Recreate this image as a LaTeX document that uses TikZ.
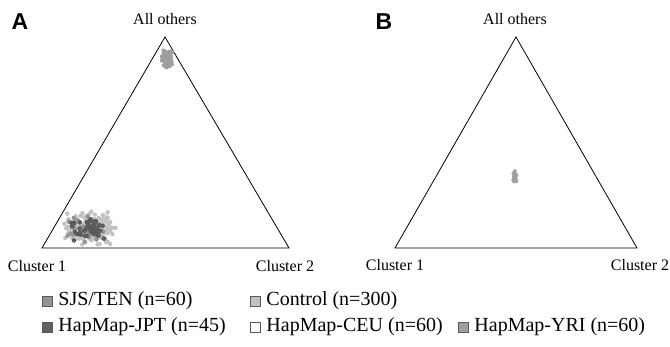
\documentclass[tikz,border=0pt]{standalone}
\usepackage{fontspec}
\setmainfont{Liberation Serif}
\newfontfamily\panelfont{Liberation Sans}
\usetikzlibrary{positioning}

\definecolor{sjsgray}{gray}{0.58}
\definecolor{ctrlgray}{gray}{0.76}
\definecolor{jptgray}{gray}{0.38}
\definecolor{yrigray}{gray}{0.62}

\tikzset{
  tri/.style={line width=0.8pt,line join=miter},
  axlabel/.style={font=\rmfamily\fontsize{16}{18}\selectfont,inner sep=0pt},
  panellabel/.style={font=\panelfont\bfseries\fontsize{23}{25}\selectfont,inner sep=0pt},
  legbox/.style={minimum size=10pt,inner sep=0pt,draw=gray!70!black,line width=0.5pt},
  legtext/.style={font=\rmfamily\fontsize{20}{22}\selectfont,inner sep=0pt,anchor=west},
  ctrlpt/.style={fill=ctrlgray},
  sjspt/.style={fill=sjsgray},
  jptpt/.style={fill=jptgray,draw=black!70,line width=0.3pt},
  yript/.style={fill=yrigray}
}

\begin{document}
\begin{tikzpicture}[x=1pt,y=-1pt]
\useasboundingbox (0,0) rectangle (670,346);
\pgfmathsetseed{11}

% panel A
\coordinate (aT) at (165,37);
\coordinate (aL) at (42,248);
\coordinate (aR) at (289,248);
\draw[tri] (aT) -- (aL) -- (aR) -- cycle;
\node[panellabel] (labA) at (20,22) {A};
\node[axlabel] (aTop) at (165,19) {All others};
\node[axlabel] (aC1) at (37,266) {Cluster 1};
\node[axlabel] (aC2) at (285,266) {Cluster 2};

% clouds near Cluster 1
\foreach \i in {1,...,190}{
  \pgfmathsetmacro\py{228+10*rand+8*rand}
  \pgfmathsetmacro\px{90+16*rand+14*rand+0.4*(\py-228)*0}
  \fill[ctrlpt] (\px,\py) circle (2.2pt);
}
\foreach \i in {1,...,55}{
  \pgfmathsetmacro\px{86+13*rand+10*rand}
  \pgfmathsetmacro\py{229+8*rand+6*rand}
  \fill[sjspt] (\px,\py) circle (2.2pt);
}
\foreach \i in {1,...,45}{
  \pgfmathsetmacro\px{88+12*rand+9*rand}
  \pgfmathsetmacro\py{229+8*rand+6*rand}
  \filldraw[jptpt] (\px,\py) circle (2pt);
}
% cloud near All others
\foreach \i in {1,...,70}{
  \pgfmathsetmacro\px{167+3.5*rand+2.5*rand}
  \pgfmathsetmacro\py{59+5*rand+4*rand}
  \fill[yript] (\px,\py) circle (2.2pt);
}

% panel B
\coordinate (bT) at (516,37);
\coordinate (bL) at (395,248);
\coordinate (bR) at (637,248);
\draw[tri] (bT) -- (bL) -- (bR) -- cycle;
\node[panellabel] (labB) at (384,22) {B};
\node[axlabel] (bTop) at (515,19) {All others};
\node[axlabel] (bC1) at (395,265) {Cluster 1};
\node[axlabel] (bC2) at (640,265) {Cluster 2};
\foreach \i in {1,...,40}{
  \pgfmathsetmacro\px{515+1.3*rand+1*rand}
  \pgfmathsetmacro\py{176+3.5*rand+3*rand}
  \fill[yript] (\px,\py) circle (1.9pt);
}

% legend
\node[legbox,fill=sjsgray] (kSJS) at (47,301) {};
\node[legtext,right=6pt of kSJS] (tSJS) {SJS/TEN (n=60)};
\node[legbox,fill=ctrlgray] (kCtrl) at (255,301) {};
\node[legtext,right=6pt of kCtrl] (tCtrl) {Control (n=300)};
\node[legbox,fill=jptgray] (kJPT) at (47,327) {};
\node[legtext,right=6pt of kJPT] (tJPT) {HapMap-JPT (n=45)};
\node[legbox,fill=white] (kCEU) at (255,327) {};
\node[legtext,right=6pt of kCEU] (tCEU) {HapMap-CEU (n=60)};
\node[legbox,fill=yrigray] (kYRI) at (463,327) {};
\node[legtext,right=6pt of kYRI] (tYRI) {HapMap-YRI (n=60)};
\end{tikzpicture}
\end{document}
